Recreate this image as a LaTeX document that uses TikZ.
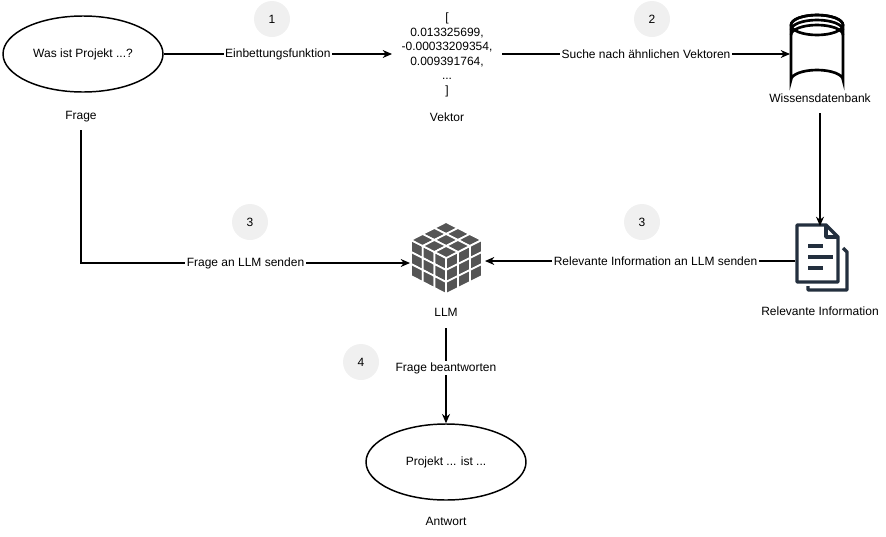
\documentclass[tikz,border=0pt]{standalone}
\usepackage{fontspec}
\setmainfont{Liberation Sans}
\usetikzlibrary{shapes.geometric,arrows.meta}
\definecolor{tile}{HTML}{555555}
\definecolor{docc}{HTML}{232F3E}
\begin{document}
\begin{tikzpicture}[x=0.75pt,y=-0.75pt,font=\fontsize{9}{11}\selectfont,
  ell/.style={ellipse,draw,line width=1.1pt,minimum width=160*0.75pt,minimum height=76*0.75pt},
  lab/.style={inner sep=1pt},
  edgelab/.style={fill=white,inner sep=1pt},
  stepc/.style={circle,fill=black!6,minimum size=36*0.75pt,inner sep=0pt},
  arr/.style={line width=0.9pt,-{Stealth[length=7pt,width=6pt]}},
  tl/.style={fill=tile,draw=white,line width=1.3pt}]
\useasboundingbox (0,0) rectangle (886,536);
% nodes
\node[ell] (q) at (83,54) {Was ist Projekt ...?};
\node[lab] (fragel) at (81,117) {Frage};
\node[align=center,inner sep=0pt,font=\fontsize{9}{10.9}\selectfont] (vec) at (447,55) {[\\0.013325699,\\-0.00033209354,\\0.009391764,\\...\\]};
\node[lab] (vekl) at (447,117) {Vektor};
\coordinate (vin) at (392,54);
\coordinate (vout) at (502,54);
% database
\begin{scope}[line width=2pt]
\draw (791,25) arc[start angle=180,end angle=360,x radius=26,y radius=10] -- (843,80) arc[start angle=0,end angle=-180,x radius=26,y radius=10] -- cycle;
\draw (817,25) ellipse[x radius=26,y radius=10];
\draw (791,30) arc[start angle=180,end angle=360,x radius=26,y radius=10];
\draw (791,35) arc[start angle=180,end angle=360,x radius=26,y radius=10];
\end{scope}
\coordinate (dbin) at (790,54);
\node[lab] (dbl) at (820,98) {Wissensdatenbank};
\coordinate (dbout) at (820,113);
% document
\begin{scope}[draw=docc,line width=2.6pt,line join=round]
\draw (797,225) -- (826,225) -- (838,237) -- (838,282) -- (797,282) -- cycle;
\draw (826,225) -- (826,237) -- (838,237);
\draw (843,248) -- (847,252) -- (847,290) -- (808,290) -- (808,286);
\draw (808,246) -- (823,246);
\draw (808,257) -- (833,257);
\draw (808,268) -- (823,268);
\end{scope}
\coordinate (docin) at (820,226);
\coordinate (docout) at (795,261);
\node[lab] (docl) at (820,311) {Relevante Information};
% cube
\foreach \i in {0,1,2}{\foreach \j in {0,1,2}{
  \filldraw[tl] (446+\i*11.8-\j*11.7,222+\i*6+\j*6) -- ++(11.8,6) -- ++(-11.7,6) -- ++(-11.8,-6) -- cycle;
  \filldraw[tl] (411+\i*11.7,240+\i*6+\j*12) -- ++(11.7,6) -- ++(0,12) -- ++(-11.7,-6) -- cycle;
  \filldraw[tl] (446+\i*12,258-\i*6+\j*12) -- ++(12,-6) -- ++(0,12) -- ++(-12,6) -- cycle;
}}
\coordinate (llmL) at (410,263);
\coordinate (llmR) at (485,261);
\coordinate (llmB) at (446,328);
\node[lab] (llml) at (446,312) {LLM};
\node[ell] (a) at (446,462) {Projekt ... ist ...};
\node[lab] (al) at (446,521) {Antwort};
\coordinate (qb) at (81,130);
% connectors
\draw[arr] (q.east) -- node[edgelab] {Einbettungsfunktion} (vin);
\draw[arr] (vout) -- node[edgelab] {Suche nach ähnlichen Vektoren} (dbin);
\draw[arr] (dbout) -- (docin);
\draw[arr] (docout) -- node[edgelab,pos=0.45] {Relevante Information an LLM senden} (llmR);
\draw[arr] (qb) |- node[edgelab,pos=0.75] {Frage an LLM senden} (llmL);
\draw[arr] (llmB) -- node[edgelab,pos=0.42] {Frage beantworten} (a.north);
% steps
\node[stepc] (s1) at (272,19) {1};
\node[stepc] (s2) at (652,19) {2};
\node[stepc] (s3a) at (250,222) {3};
\node[stepc] (s3b) at (642,222) {3};
\node[stepc] (s4) at (361,362) {4};
\end{tikzpicture}
\end{document}
